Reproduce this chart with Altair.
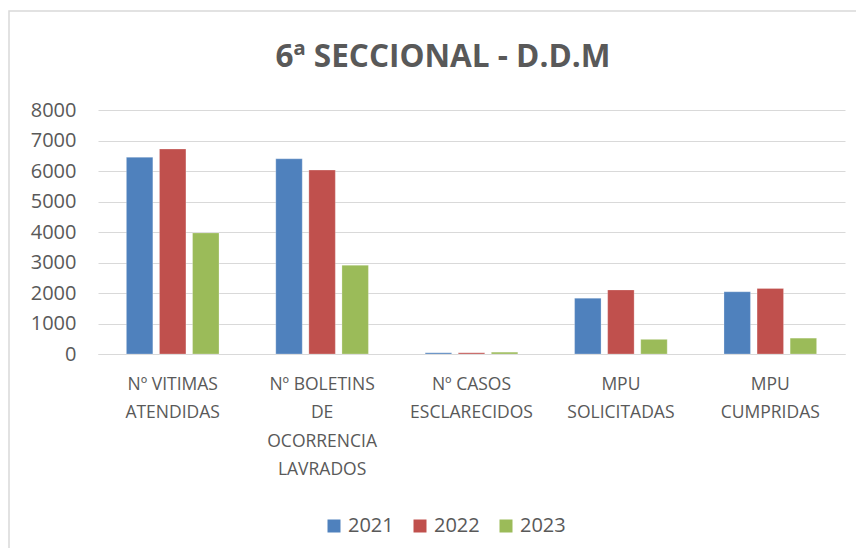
import altair as alt
import pandas as pd

categories = [
    "Nº VITIMAS|ATENDIDAS",
    "Nº BOLETINS|DE|OCORRENCIA|LAVRADOS",
    "Nº CASOS|ESCLARECIDOS",
    "MPU|SOLICITADAS",
    "MPU|CUMPRIDAS",
]
years = ["2021", "2022", "2023"]
v2021 = [6450, 6400, 40, 1830, 2040]
v2022 = [6720, 6030, 40, 2100, 2150]
v2023 = [3970, 2910, 60, 480, 520]
colors = ["#4F81BD", "#C0504D", "#9BBB59"]
title_text = "6ª SECCIONAL - D.D.M"

rows = []
for yr, vals in zip(years, [v2021, v2022, v2023]):
    for c, v in zip(categories, vals):
        rows.append({"categoria": c, "ano": yr, "valor": v})
df = pd.DataFrame(rows)

TEXT = "#595959"
FONT = "Open Sans"

bars = alt.Chart(df).mark_bar(stroke="white", strokeOpacity=0.5, strokeWidth=0.5).encode(
    x=alt.X(
        "categoria:N",
        sort=categories,
        scale=alt.Scale(paddingInner=0.38, paddingOuter=0.19),
        axis=alt.Axis(
            title=None,
            labelExpr="split(datum.label, '|')",
            labelAngle=0,
            labelOverlap=False,
            labelLimit=0,
            labelLineHeight=28.5,
            labelFontSize=17.5,
            labelFont=FONT,
            labelColor=TEXT,
            labelPadding=21,
            ticks=False,
            domainColor="#D9D9D9",
            domainWidth=1,
        ),
    ),
    xOffset=alt.XOffset("ano:N", sort=years, scale=alt.Scale(paddingInner=0.2)),
    y=alt.Y(
        "valor:Q",
        scale=alt.Scale(domain=[0, 8000]),
        axis=alt.Axis(
            title=None,
            values=list(range(0, 8001, 1000)),
            format="d",
            ticks=False,
            domain=False,
            gridColor="#D9D9D9",
            gridWidth=1,
            labelPadding=22,
            labelFontSize=20,
            labelFont=FONT,
            labelColor=TEXT,
        ),
    ),
    color=alt.Color(
        "ano:N",
        sort=years,
        scale=alt.Scale(domain=years, range=colors),
        legend=alt.Legend(
            title=None,
            orient="none",
            direction="horizontal",
            legendX=226,
            legendY=406,
            symbolType="square",
            symbolSize=169,
            symbolStrokeWidth=0,
            labelFontSize=20,
            labelFont=FONT,
            labelColor=TEXT,
            columnPadding=16,
            labelOffset=4,
        ),
    ),
)

border = alt.Chart(alt.Data(values=[{"a": 1}])).mark_rect(
    fill=None, stroke="#D9D9D9", strokeWidth=1.5
).encode(
    x=alt.value(-89), y=alt.value(-99), x2=alt.value(800), y2=alt.value(470)
)

title = alt.Chart(alt.Data(values=[{"t": title_text}])).mark_text(
    font=FONT, fontSize=31.5, fontWeight="bold", color=TEXT,
    align="center", baseline="alphabetic"
).encode(
    text="t:N", x=alt.value(345), y=alt.value(-43)
)

chart = alt.layer(border, bars, title).properties(
    width=747,
    height=244,
    padding={"left": 90, "top": 102, "right": 11, "bottom": 194},
    autosize=alt.AutoSizeParams(type="none"),
).configure_view(stroke=None)

chart.save("out.html", embed_options={"renderer": "svg", "actions": False})
